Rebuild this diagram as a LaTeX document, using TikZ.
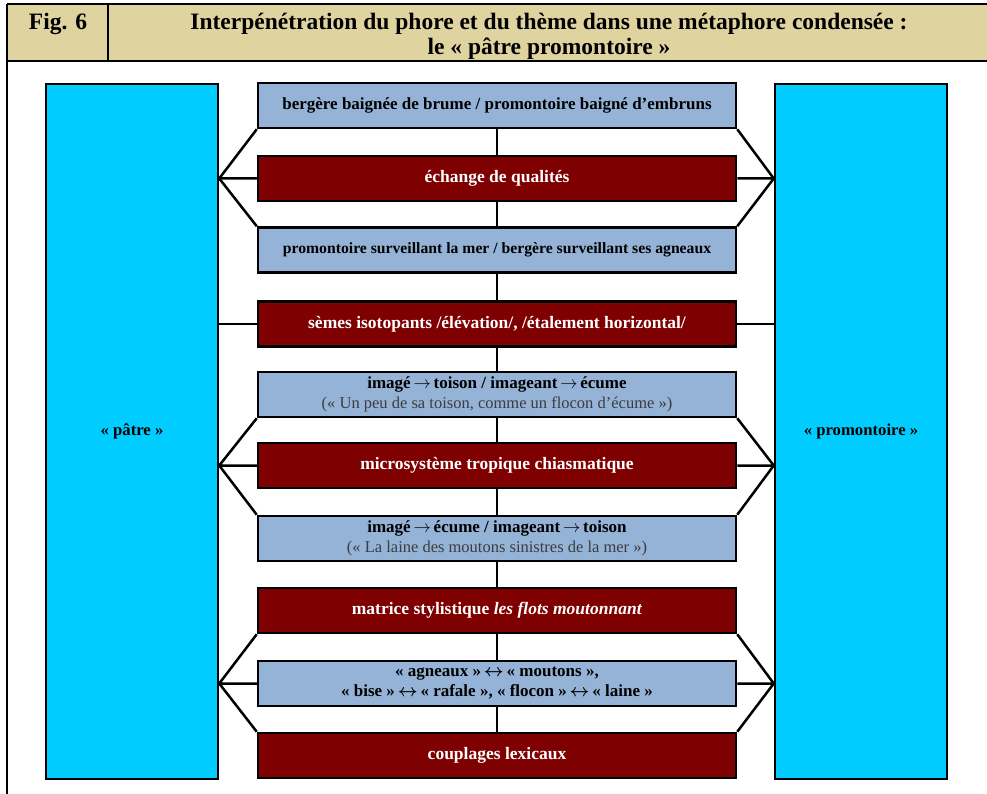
\documentclass[tikz,border=0pt]{standalone}
\usepackage{fontspec}
\setmainfont{Liberation Serif}
\usetikzlibrary{backgrounds}
\definecolor{gold}{RGB}{223,211,160}
\definecolor{skyc}{RGB}{0,204,255}
\definecolor{paleb}{RGB}{149,179,215}
\definecolor{darkr}{RGB}{127,0,0}
\definecolor{subgray}{RGB}{60,60,60}
\newcommand{\rarr}{\,$\rightarrow$\,}
\newcommand{\lrarr}{\,$\boldsymbol{\leftrightarrow}$\,}
\usepackage{amsmath}
\tikzset{
  side/.style={draw=black, line width=2.5pt, fill=skyc, minimum width=172pt, minimum height=695pt, inner sep=0pt, font=\bfseries\fontsize{16.7}{20}\selectfont},
  bluebox/.style={draw=black, line width=2.5pt, fill=paleb, minimum width=478pt, minimum height=45pt, inner sep=0pt, align=center, font=\bfseries\fontsize{17}{20}\selectfont},
  redbox/.style={draw=black, line width=2.5pt, fill=darkr, text=white, minimum width=478pt, minimum height=45pt, inner sep=0pt, align=center, font=\bfseries\fontsize{17.5}{20}\selectfont},
  conn/.style={draw=black, line width=2.5pt},
  frame/.style={draw=black, line width=2pt},
  hdr/.style={font=\bfseries\fontsize{23.5}{25}\selectfont, align=center, inner sep=0pt}
}
\begin{document}
\begin{tikzpicture}[x=1pt,y=-1pt]
\useasboundingbox (0,0) rectangle (987,794);
\clip (0,0) rectangle (987,794);
% header
\path[fill=gold] (7,4) rectangle (995,61);
\draw[frame] (7,4) -- (995,4);
\draw[frame] (7,61) -- (995,61);
\draw[frame] (7,4) -- (7,800);
\draw[frame] (108,4) -- (108,61);
\node[hdr] (fig) at (58,23.5) {Fig. 6};
\node[hdr] (title) at (549,36.5) {Interpénétration du phore et du thème dans une métaphore condensée :\\le « pâtre promontoire »};
% side boxes
\node[side] (pL) at (132,431.5) {« pâtre »};
\node[side] (pR) at (861,431.5) {« promontoire »};
% central boxes
\node[bluebox] (b1) at (497,105.5) {bergère baignée de brume / promontoire baigné d’embruns};
\node[redbox] (b2) at (497,178.5) {échange de qualités};
\node[bluebox, font=\bfseries\fontsize{15.7}{20}\selectfont] (b3) at (497,250) {promontoire surveillant la mer / bergère surveillant ses agneaux};
\node[redbox] (b4) at (497,324) {sèmes isotopants /élévation/, /étalement horizontal/};
\node[bluebox] (b5) at (497,394.5) {imagé\rarr toison / imageant\rarr écume\\{\mdseries\fontsize{16.5}{20}\selectfont\color{subgray}(« Un peu de sa toison, comme un flocon d’écume »)}};
\node[redbox] (b6) at (497,465.5) {microsystème tropique chiasmatique};
\node[bluebox] (b7) at (497,538.5) {imagé\rarr écume / imageant\rarr toison\\{\mdseries\fontsize{16.5}{20}\selectfont\color{subgray}(« La laine des moutons sinistres de la mer »)}};
\node[redbox] (b8) at (497,610.5) {matrice stylistique \textit{les flots moutonnant}};
\node[bluebox] (b9) at (497,683.5) {« agneaux »\lrarr« moutons »,\\« bise »\lrarr« rafale », « flocon »\lrarr« laine »};
\node[redbox] (b10) at (497,755.5) {couplages lexicaux};
% connectors
\begin{scope}[on background layer]
\draw[conn] (b1.south) -- (b10.north);
\foreach \a/\m/\c in {b1/b2/b3, b5/b6/b7, b8/b9/b10}{
  \draw[conn] (\a.south west) -- (pL.east |- \m.west) -- (\m.west);
  \draw[conn] (pL.east |- \m.west) -- (\c.north west);
  \draw[conn] (\a.south east) -- (pR.west |- \m.east) -- (\m.east);
  \draw[conn] (pR.west |- \m.east) -- (\c.north east);
}
\draw[conn] (pL.east |- b4.west) -- (b4.west);
\draw[conn] (b4.east) -- (pR.west |- b4.east);
\end{scope}
\end{tikzpicture}
\end{document}
